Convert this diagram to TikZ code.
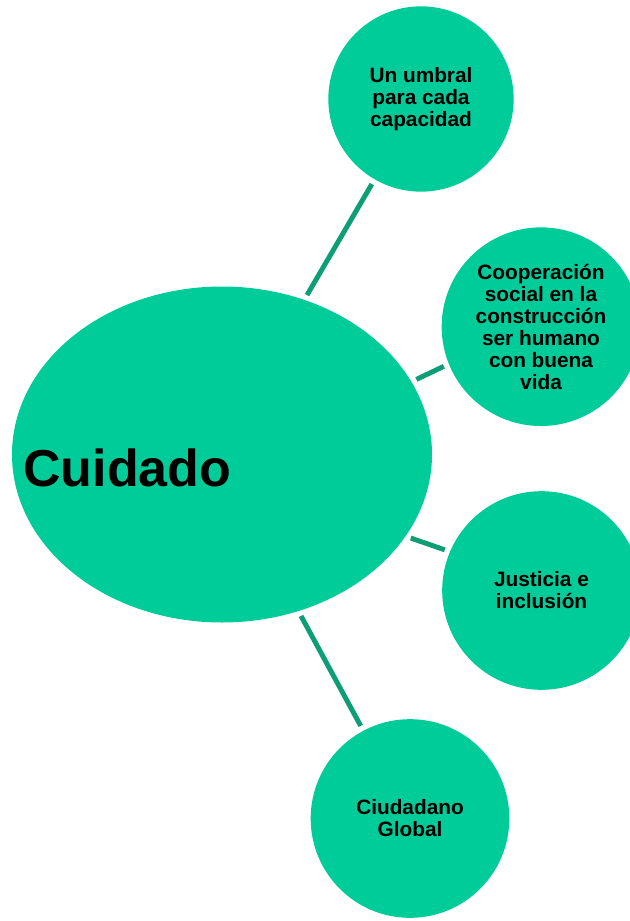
\documentclass[tikz,border=0pt]{standalone}
\usepackage{fontspec}
\setmainfont{Liberation Sans}
\usetikzlibrary{shapes.geometric}
\usetikzlibrary{positioning}
\definecolor{mint}{RGB}{0,204,153}
\definecolor{mintdark}{RGB}{14,158,118}
\tikzset{bubble/.style = {circle, fill=mint, inner sep=0pt, align=center,
                          minimum size=149pt,
                          font=\bfseries\fontsize{15.6}{16.5}\selectfont},
         blob/.style = {ellipse, fill=mint, inner sep=0pt,
                        minimum width=315pt, minimum height=252pt},
         link/.style = {draw=mintdark, line width=3.7pt,
                        shorten >=4pt, shorten <=4pt}}

\begin{document}
\begin{tikzpicture}[x=0.75pt, y=-0.75pt]
    \useasboundingbox (0,0) rectangle (630,921);
    \clip (0,0) rectangle (630,921);

    \node[blob] (cuidado) at (222,454.5) {};
    \node[anchor=base west, inner sep=0pt, font=\bfseries\fontsize{39}{40}\selectfont]
        (cuidadotxt) at (23,486) {Cuidado};

    \node[bubble, minimum size=139pt] (umbral) at (421,99) {Un umbral\\para cada\\capacidad};
    \node[bubble] (coop) at (541,326.7) {Cooperación\\social en la\\construcción\\ser humano\\con buena\\vida};
    \node[bubble] (justicia) at (541.5,590.5) {Justicia e\\inclusión};
    \node[bubble] (global) at (410,818.5) {Ciudadano\\Global};

    \draw[link] (cuidado.62.2) -- (umbral.-120.1);
    \draw[link] (cuidado.21.8) -- (coop.202.4);
    \draw[link] (cuidado.-24) -- (justicia.157.8);
    \draw[link] (cuidado.-64.5) -- (global.118.9);
\end{tikzpicture}
\end{document}
